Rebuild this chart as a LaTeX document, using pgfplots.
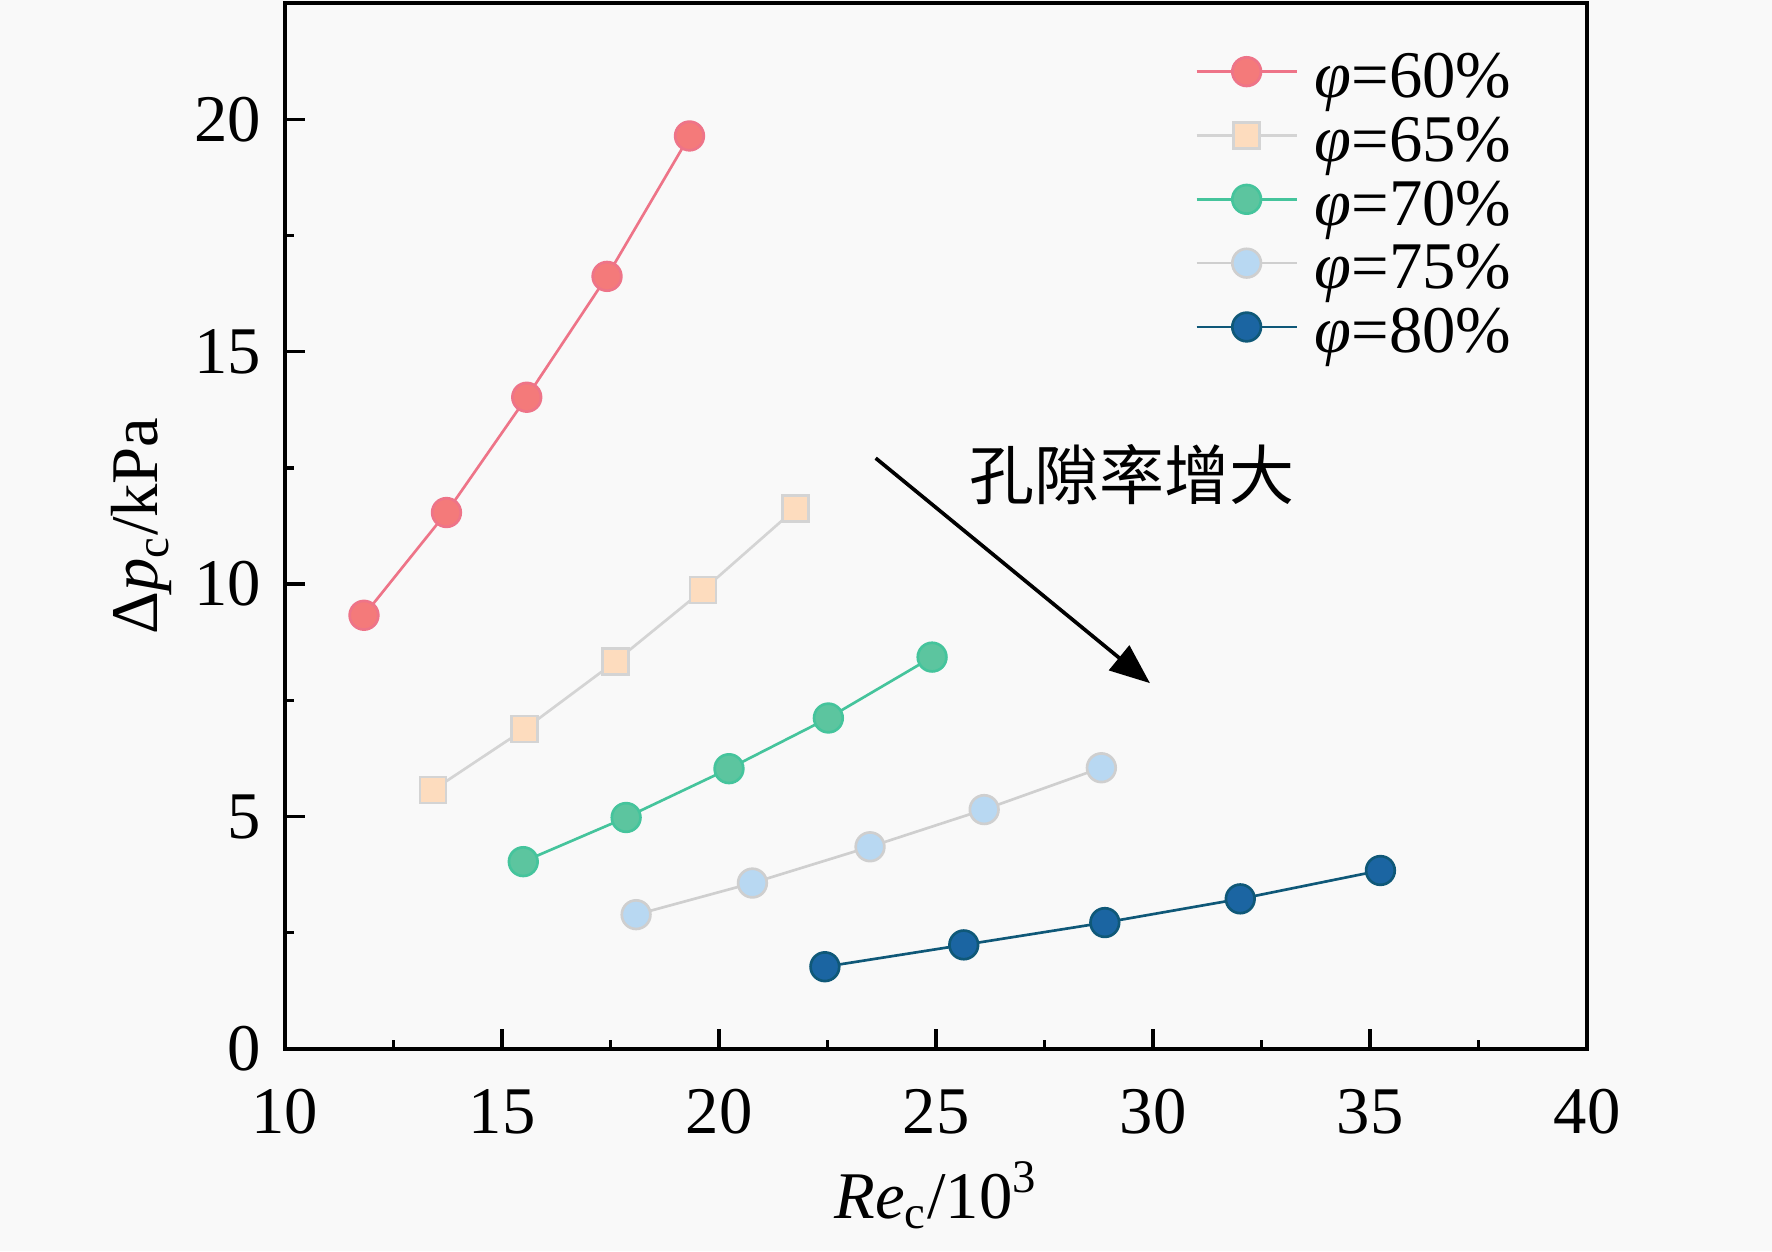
\documentclass[border=0pt]{standalone}
\usepackage{pgfplots}
\pgfplotsset{compat=1.18}
\usepackage{fontspec}
\setmainfont{Liberation Serif}
\newfontfamily\cjk{Noto Sans CJK SC}
\usetikzlibrary{arrows.meta,backgrounds}

\definecolor{bgc}{HTML}{F9F9F9}
\definecolor{m60}{HTML}{F47A7A}
\definecolor{l60}{HTML}{EE7488}
\definecolor{m65}{HTML}{FDDCBE}
\definecolor{l65}{HTML}{D4D4D4}
\definecolor{m70}{HTML}{5CC59F}
\definecolor{l70}{HTML}{45C49C}
\definecolor{m75}{HTML}{B8D8F2}
\definecolor{l75}{HTML}{CFCFCF}
\definecolor{m80}{HTML}{1B65A2}
\definecolor{l80}{HTML}{0F5878}

\pgfplotstableread{
x y
11.82 9.33
13.72 11.54
15.57 14.02
17.42 16.62
19.32 19.64
}\tsixty
\pgfplotstableread{
x y
13.41 5.57
15.52 6.88
17.62 8.34
19.63 9.87
21.76 11.62
}\tsixtyfive
\pgfplotstableread{
x y
15.49 4.03
17.86 4.98
20.23 6.03
22.52 7.12
24.91 8.43
}\tseventy
\pgfplotstableread{
x y
18.09 2.89
20.77 3.57
23.48 4.35
26.11 5.15
28.81 6.05
}\tseventyfive
\pgfplotstableread{
x y
22.44 1.77
25.64 2.24
28.89 2.72
32.01 3.23
35.24 3.84
}\teighty

\begin{document}
\begin{tikzpicture}
\begin{axis}[
  scale only axis,
  width=390.6pt, height=313.8pt,
  xmin=10, xmax=40, ymin=0, ymax=22.5,
  xtick={10,15,20,25,30,35,40},
  ytick={0,5,10,15,20},
  minor x tick num=1, minor y tick num=1,
  xtick pos=left, ytick pos=left,
  tick align=inside,
  major tick length=6pt, minor tick length=2.8pt,
  every tick/.style={black, line width=1pt},
  axis line style={line width=1pt},
  /pgf/number format/assume math mode=true,
  tick label style={font=\fontsize{20}{24}\selectfont},
  xticklabel style={anchor=base, yshift=-25.2pt},
  yticklabel style={anchor=east, inner sep=0pt, xshift=-7pt},
  xlabel={\textit{Re}\textsubscript{c}/10\textsuperscript{3}},
  ylabel={Δ\textit{p}\textsubscript{c}/kPa},
  label style={font=\fontsize{20}{24}\selectfont},
  xlabel style={at={([yshift=-50.7pt]rel axis cs:0.5,0)}, anchor=base},
  ylabel style={at={([xshift=-43pt]rel axis cs:0,0.5)}, anchor=center},
  legend style={draw=none, fill=none, at={(rel axis cs:0.9424,0.955)}, anchor=north east,
    inner sep=0pt, row sep=0pt, font=\fontsize{20}{24}\selectfont,
    nodes={inner sep=0pt, text height=14pt, text depth=5.15pt},
    /tikz/every odd column/.append style={column sep=5pt}},
  legend cell align=left,
  legend image code/.code={
    \draw[#1, mark repeat=2, mark phase=2, yshift=0.33em] plot coordinates {(0pt,0pt) (15pt,0pt) (30pt,0pt)};
  },
]
\addplot[l60, line width=0.8pt, mark=*, mark size=4.3pt, mark options={draw=none, fill=m60}] table[x=x,y=y] {\tsixty};
\addlegendentry{\textit{φ}=60\%}
\addplot[l65, line width=0.8pt, mark=square*, mark size=3.9pt, mark options={draw=none, fill=m65}] table[x=x,y=y] {\tsixtyfive};
\addlegendentry{\textit{φ}=65\%}
\addplot[l70, line width=0.8pt, mark=*, mark size=4.3pt, mark options={draw=none, fill=m70}] table[x=x,y=y] {\tseventy};
\addlegendentry{\textit{φ}=70\%}
\addplot[l75, line width=0.8pt, mark=*, mark size=4.3pt, mark options={draw=none, fill=m75}] table[x=x,y=y] {\tseventyfive};
\addlegendentry{\textit{φ}=75\%}
\addplot[l80, line width=0.8pt, mark=*, mark size=4.3pt, mark options={draw=none, fill=m80}] table[x=x,y=y] {\teighty};
\addlegendentry{\textit{φ}=80\%}

\draw[black, line width=1.1pt, -{Triangle[length=12pt, width=9.5pt]}] (axis cs:23.61,12.71) -- (axis cs:29.93,7.87);
\node[font=\cjk\fontsize{19.5}{24}\selectfont] at (axis cs:29.52,12.35) {孔隙率增大};

\coordinate (SW) at (rel axis cs:0,0);
\coordinate (NE) at (rel axis cs:1,1);
\end{axis}
\begin{scope}[on background layer]
\fill[bgc] ([xshift=-85.5pt,yshift=-60.6pt]SW) rectangle ([xshift=55.5pt,yshift=0.9pt]NE);
\end{scope}
\end{tikzpicture}
\end{document}
